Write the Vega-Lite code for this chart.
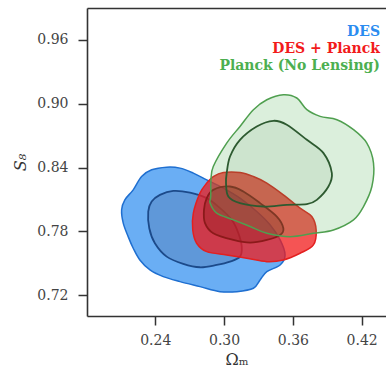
{
  "$schema": "https://vega.github.io/schema/vega-lite/v6.json",
  "width": 299,
  "height": 308,
  "autosize": {"type": "none"},
  "padding": {"left": 87, "top": 8, "right": 0, "bottom": 51},
  "background": "white",
  "data": {"values": [
    {"c":"b95","s":"DES","i":1,"x":0.2107,"y":0.8003},
    {"c":"b95","s":"DES","i":2,"x":0.2135,"y":0.8097},
    {"c":"b95","s":"DES","i":3,"x":0.2208,"y":0.8191},
    {"c":"b95","s":"DES","i":4,"x":0.2281,"y":0.8316},
    {"c":"b95","s":"DES","i":5,"x":0.2369,"y":0.8379},
    {"c":"b95","s":"DES","i":6,"x":0.2500,"y":0.8404},
    {"c":"b95","s":"DES","i":7,"x":0.2616,"y":0.8395},
    {"c":"b95","s":"DES","i":8,"x":0.2732,"y":0.8348},
    {"c":"b95","s":"DES","i":9,"x":0.2849,"y":0.8285},
    {"c":"b95","s":"DES","i":10,"x":0.2994,"y":0.8207},
    {"c":"b95","s":"DES","i":11,"x":0.3139,"y":0.8113},
    {"c":"b95","s":"DES","i":12,"x":0.3285,"y":0.7987},
    {"c":"b95","s":"DES","i":13,"x":0.3401,"y":0.7862},
    {"c":"b95","s":"DES","i":14,"x":0.3489,"y":0.7720},
    {"c":"b95","s":"DES","i":15,"x":0.3532,"y":0.7579},
    {"c":"b95","s":"DES","i":16,"x":0.3489,"y":0.7485},
    {"c":"b95","s":"DES","i":17,"x":0.3373,"y":0.7422},
    {"c":"b95","s":"DES","i":18,"x":0.3314,"y":0.7344},
    {"c":"b95","s":"DES","i":19,"x":0.3256,"y":0.7266},
    {"c":"b95","s":"DES","i":20,"x":0.3111,"y":0.7234},
    {"c":"b95","s":"DES","i":21,"x":0.2965,"y":0.7234},
    {"c":"b95","s":"DES","i":22,"x":0.2790,"y":0.7281},
    {"c":"b95","s":"DES","i":23,"x":0.2616,"y":0.7328},
    {"c":"b95","s":"DES","i":24,"x":0.2470,"y":0.7375},
    {"c":"b95","s":"DES","i":25,"x":0.2354,"y":0.7438},
    {"c":"b95","s":"DES","i":26,"x":0.2266,"y":0.7532},
    {"c":"b95","s":"DES","i":27,"x":0.2208,"y":0.7642},
    {"c":"b95","s":"DES","i":28,"x":0.2164,"y":0.7751},
    {"c":"b95","s":"DES","i":29,"x":0.2121,"y":0.7878},
    {"c":"b68","s":"DES","i":1,"x":0.2339,"y":0.7987},
    {"c":"b68","s":"DES","i":2,"x":0.2369,"y":0.8081},
    {"c":"b68","s":"DES","i":3,"x":0.2441,"y":0.8144},
    {"c":"b68","s":"DES","i":4,"x":0.2557,"y":0.8181},
    {"c":"b68","s":"DES","i":5,"x":0.2703,"y":0.8165},
    {"c":"b68","s":"DES","i":6,"x":0.2849,"y":0.8113},
    {"c":"b68","s":"DES","i":7,"x":0.2965,"y":0.8019},
    {"c":"b68","s":"DES","i":8,"x":0.3067,"y":0.7909},
    {"c":"b68","s":"DES","i":9,"x":0.3125,"y":0.7783},
    {"c":"b68","s":"DES","i":10,"x":0.3154,"y":0.7657},
    {"c":"b68","s":"DES","i":11,"x":0.3139,"y":0.7563},
    {"c":"b68","s":"DES","i":12,"x":0.3052,"y":0.7516},
    {"c":"b68","s":"DES","i":13,"x":0.2936,"y":0.7485},
    {"c":"b68","s":"DES","i":14,"x":0.2790,"y":0.7463},
    {"c":"b68","s":"DES","i":15,"x":0.2644,"y":0.7495},
    {"c":"b68","s":"DES","i":16,"x":0.2500,"y":0.7563},
    {"c":"b68","s":"DES","i":17,"x":0.2397,"y":0.7689},
    {"c":"b68","s":"DES","i":18,"x":0.2348,"y":0.7830},
    {"c":"r95","s":"DES + Planck","i":1,"x":0.2906,"y":0.8316},
    {"c":"r95","s":"DES + Planck","i":2,"x":0.2994,"y":0.8354},
    {"c":"r95","s":"DES + Planck","i":3,"x":0.3139,"y":0.8354},
    {"c":"r95","s":"DES + Planck","i":4,"x":0.3256,"y":0.8316},
    {"c":"r95","s":"DES + Planck","i":5,"x":0.3373,"y":0.8254},
    {"c":"r95","s":"DES + Planck","i":6,"x":0.3517,"y":0.8144},
    {"c":"r95","s":"DES + Planck","i":7,"x":0.3663,"y":0.8019},
    {"c":"r95","s":"DES + Planck","i":8,"x":0.3765,"y":0.7940},
    {"c":"r95","s":"DES + Planck","i":9,"x":0.3803,"y":0.7814},
    {"c":"r95","s":"DES + Planck","i":10,"x":0.3779,"y":0.7673},
    {"c":"r95","s":"DES + Planck","i":11,"x":0.3663,"y":0.7595},
    {"c":"r95","s":"DES + Planck","i":12,"x":0.3517,"y":0.7532},
    {"c":"r95","s":"DES + Planck","i":13,"x":0.3373,"y":0.7516},
    {"c":"r95","s":"DES + Planck","i":14,"x":0.3198,"y":0.7548},
    {"c":"r95","s":"DES + Planck","i":15,"x":0.3023,"y":0.7579},
    {"c":"r95","s":"DES + Planck","i":16,"x":0.2849,"y":0.7610},
    {"c":"r95","s":"DES + Planck","i":17,"x":0.2761,"y":0.7689},
    {"c":"r95","s":"DES + Planck","i":18,"x":0.2727,"y":0.7814},
    {"c":"r95","s":"DES + Planck","i":19,"x":0.2732,"y":0.7972},
    {"c":"r95","s":"DES + Planck","i":20,"x":0.2790,"y":0.8160},
    {"c":"r95","s":"DES + Planck","i":21,"x":0.2849,"y":0.8254},
    {"c":"r68","s":"DES + Planck","i":1,"x":0.2906,"y":0.8191},
    {"c":"r68","s":"DES + Planck","i":2,"x":0.3052,"y":0.8222},
    {"c":"r68","s":"DES + Planck","i":3,"x":0.3168,"y":0.8175},
    {"c":"r68","s":"DES + Planck","i":4,"x":0.3314,"y":0.8066},
    {"c":"r68","s":"DES + Planck","i":5,"x":0.3460,"y":0.7940},
    {"c":"r68","s":"DES + Planck","i":6,"x":0.3517,"y":0.7830},
    {"c":"r68","s":"DES + Planck","i":7,"x":0.3489,"y":0.7767},
    {"c":"r68","s":"DES + Planck","i":8,"x":0.3373,"y":0.7720},
    {"c":"r68","s":"DES + Planck","i":9,"x":0.3227,"y":0.7695},
    {"c":"r68","s":"DES + Planck","i":10,"x":0.3081,"y":0.7720},
    {"c":"r68","s":"DES + Planck","i":11,"x":0.2906,"y":0.7783},
    {"c":"r68","s":"DES + Planck","i":12,"x":0.2834,"y":0.7878},
    {"c":"r68","s":"DES + Planck","i":13,"x":0.2825,"y":0.8003},
    {"c":"r68","s":"DES + Planck","i":14,"x":0.2849,"y":0.8113},
    {"c":"g95","s":"Planck (No Lensing)","i":1,"x":0.2906,"y":0.8410},
    {"c":"g95","s":"Planck (No Lensing)","i":2,"x":0.3023,"y":0.8630},
    {"c":"g95","s":"Planck (No Lensing)","i":3,"x":0.3139,"y":0.8787},
    {"c":"g95","s":"Planck (No Lensing)","i":4,"x":0.3256,"y":0.8944},
    {"c":"g95","s":"Planck (No Lensing)","i":5,"x":0.3373,"y":0.9038},
    {"c":"g95","s":"Planck (No Lensing)","i":6,"x":0.3517,"y":0.9085},
    {"c":"g95","s":"Planck (No Lensing)","i":7,"x":0.3634,"y":0.9054},
    {"c":"g95","s":"Planck (No Lensing)","i":8,"x":0.3722,"y":0.8944},
    {"c":"g95","s":"Planck (No Lensing)","i":9,"x":0.3838,"y":0.8881},
    {"c":"g95","s":"Planck (No Lensing)","i":10,"x":0.3984,"y":0.8850},
    {"c":"g95","s":"Planck (No Lensing)","i":11,"x":0.4129,"y":0.8756},
    {"c":"g95","s":"Planck (No Lensing)","i":12,"x":0.4245,"y":0.8630},
    {"c":"g95","s":"Planck (No Lensing)","i":13,"x":0.4303,"y":0.8442},
    {"c":"g95","s":"Planck (No Lensing)","i":14,"x":0.4289,"y":0.8222},
    {"c":"g95","s":"Planck (No Lensing)","i":15,"x":0.4216,"y":0.8034},
    {"c":"g95","s":"Planck (No Lensing)","i":16,"x":0.4129,"y":0.7909},
    {"c":"g95","s":"Planck (No Lensing)","i":17,"x":0.3954,"y":0.7814},
    {"c":"g95","s":"Planck (No Lensing)","i":18,"x":0.3779,"y":0.7783},
    {"c":"g95","s":"Planck (No Lensing)","i":19,"x":0.3576,"y":0.7751},
    {"c":"g95","s":"Planck (No Lensing)","i":20,"x":0.3373,"y":0.7783},
    {"c":"g95","s":"Planck (No Lensing)","i":21,"x":0.3227,"y":0.7846},
    {"c":"g95","s":"Planck (No Lensing)","i":22,"x":0.3081,"y":0.7909},
    {"c":"g95","s":"Planck (No Lensing)","i":23,"x":0.2936,"y":0.7972},
    {"c":"g95","s":"Planck (No Lensing)","i":24,"x":0.2878,"y":0.8066},
    {"c":"g95","s":"Planck (No Lensing)","i":25,"x":0.2884,"y":0.8128},
    {"c":"g95","s":"Planck (No Lensing)","i":26,"x":0.2886,"y":0.8285},
    {"c":"g68","s":"Planck (No Lensing)","i":1,"x":0.3023,"y":0.8348},
    {"c":"g68","s":"Planck (No Lensing)","i":2,"x":0.3052,"y":0.8504},
    {"c":"g68","s":"Planck (No Lensing)","i":3,"x":0.3139,"y":0.8661},
    {"c":"g68","s":"Planck (No Lensing)","i":4,"x":0.3285,"y":0.8787},
    {"c":"g68","s":"Planck (No Lensing)","i":5,"x":0.3430,"y":0.8840},
    {"c":"g68","s":"Planck (No Lensing)","i":6,"x":0.3547,"y":0.8803},
    {"c":"g68","s":"Planck (No Lensing)","i":7,"x":0.3722,"y":0.8661},
    {"c":"g68","s":"Planck (No Lensing)","i":8,"x":0.3867,"y":0.8536},
    {"c":"g68","s":"Planck (No Lensing)","i":9,"x":0.3940,"y":0.8348},
    {"c":"g68","s":"Planck (No Lensing)","i":10,"x":0.3910,"y":0.8222},
    {"c":"g68","s":"Planck (No Lensing)","i":11,"x":0.3809,"y":0.8097},
    {"c":"g68","s":"Planck (No Lensing)","i":12,"x":0.3722,"y":0.8056},
    {"c":"g68","s":"Planck (No Lensing)","i":13,"x":0.3547,"y":0.8050},
    {"c":"g68","s":"Planck (No Lensing)","i":14,"x":0.3343,"y":0.8034},
    {"c":"g68","s":"Planck (No Lensing)","i":15,"x":0.3139,"y":0.8066},
    {"c":"g68","s":"Planck (No Lensing)","i":16,"x":0.3037,"y":0.8128},
    {"c":"g68","s":"Planck (No Lensing)","i":17,"x":0.3017,"y":0.8254}
  ]},
  "resolve": {"axis": {"x": "independent"}},
  "layer": [
    {
      "transform": [{"filter": "datum.c == 'b95'"}],
      "mark": {"type": "line", "interpolate": "cardinal-closed", "fillOpacity": 0.7, "stroke": "#1f6fd0", "strokeWidth": 1.5},
      "encoding": {
        "x": {"field": "x", "type": "quantitative", "scale": {"domain": [0.1805, 0.4412], "nice": false, "zero": false}, "axis": {"values": [0.24, 0.30, 0.36, 0.42], "format": ".2f", "title": "Ωₘ", "labelPadding": 8, "titlePadding": 4}},
        "y": {"field": "y", "type": "quantitative", "scale": {"domain": [0.7005, 0.990], "nice": false, "zero": false}, "axis": {"values": [0.72, 0.78, 0.84, 0.90, 0.96], "format": ".2f", "title": "S₈", "titleFontStyle": "italic", "labelPadding": 10, "titlePadding": 8}},
        "order": {"field": "i", "type": "quantitative"},
        "fill": {"field": "s", "type": "nominal", "title": " ", "scale": {"domain": ["DES", "DES + Planck", "Planck (No Lensing)"], "range": ["#2b8cf0", "#f21b1b", "#4caf50"]}, "legend": {"labelColor": {"expr": "scale('fill', datum.value)"}}}
      }
    },
    {
      "transform": [{"filter": "datum.c == 'b68'"}],
      "mark": {"type": "line", "interpolate": "cardinal-closed", "fill": "#4a6fa5", "fillOpacity": 0.35, "stroke": "#1c4a8a", "strokeWidth": 1.8},
      "encoding": {
        "x": {"field": "x", "type": "quantitative", "axis": null},
        "y": {"field": "y", "type": "quantitative", "axis": {"values": [0.72, 0.78, 0.84, 0.90, 0.96], "format": ".2f", "title": "S₈", "titleFontStyle": "italic", "labelPadding": 10, "titlePadding": 8}},
        "order": {"field": "i", "type": "quantitative"}
      }
    },
    {
      "transform": [{"filter": "datum.c == 'r95'"}],
      "mark": {"type": "line", "interpolate": "cardinal-closed", "fillOpacity": 0.75, "stroke": "#e32020", "strokeWidth": 1.5},
      "encoding": {
        "x": {"field": "x", "type": "quantitative", "axis": null},
        "y": {"field": "y", "type": "quantitative", "axis": {"values": [0.72, 0.78, 0.84, 0.90, 0.96], "format": ".2f", "title": "S₈", "titleFontStyle": "italic", "labelPadding": 10, "titlePadding": 8}},
        "order": {"field": "i", "type": "quantitative"},
        "fill": {"field": "s", "type": "nominal", "title": " ", "legend": {"labelColor": {"expr": "scale('fill', datum.value)"}}}
      }
    },
    {
      "transform": [{"filter": "datum.c == 'r68'"}],
      "mark": {"type": "line", "interpolate": "cardinal-closed", "fill": "#8b1a1a", "fillOpacity": 0.35, "stroke": "#8b1a1a", "strokeWidth": 1.8},
      "encoding": {
        "x": {"field": "x", "type": "quantitative", "axis": null},
        "y": {"field": "y", "type": "quantitative", "axis": {"values": [0.72, 0.78, 0.84, 0.90, 0.96], "format": ".2f", "title": "S₈", "titleFontStyle": "italic", "labelPadding": 10, "titlePadding": 8}},
        "order": {"field": "i", "type": "quantitative"}
      }
    },
    {
      "transform": [{"filter": "datum.c == 'g95'"}],
      "mark": {"type": "line", "interpolate": "cardinal-closed", "fillOpacity": 0.2, "stroke": "#4f9f4f", "strokeWidth": 1.5},
      "encoding": {
        "x": {"field": "x", "type": "quantitative", "axis": null},
        "y": {"field": "y", "type": "quantitative", "axis": {"values": [0.72, 0.78, 0.84, 0.90, 0.96], "format": ".2f", "title": "S₈", "titleFontStyle": "italic", "labelPadding": 10, "titlePadding": 8}},
        "order": {"field": "i", "type": "quantitative"},
        "fill": {"field": "s", "type": "nominal", "title": " ", "legend": {"labelColor": {"expr": "scale('fill', datum.value)"}}}
      }
    },
    {
      "transform": [{"filter": "datum.c == 'g68'"}],
      "mark": {"type": "line", "interpolate": "cardinal-closed", "fill": "#2e6b35", "fillOpacity": 0.08, "stroke": "#2d5a30", "strokeWidth": 1.8},
      "encoding": {
        "x": {"field": "x", "type": "quantitative", "axis": {"orient": "top", "labels": false, "ticks": false, "title": null, "domain": true}},
        "y": {"field": "y", "type": "quantitative", "axis": {"values": [0.72, 0.78, 0.84, 0.90, 0.96], "format": ".2f", "title": "S₈", "titleFontStyle": "italic", "labelPadding": 10, "titlePadding": 8}},
        "order": {"field": "i", "type": "quantitative"}
      }
    }
  ],
  "config": {
    "font": "DejaVu Serif",
    "view": {"stroke": null},
    "axis": {"grid": false, "domainColor": "#333", "domainWidth": 1.6, "tickColor": "#333", "tickWidth": 1.5, "tickSize": 9, "labelFont": "DejaVu Serif", "labelFontSize": 14, "labelColor": "#444", "titleFont": "DejaVu Serif", "titleFontWeight": "normal", "titleFontSize": 16, "titleColor": "#333"},
    "legend": {"orient": "top-right", "offset": 6, "symbolSize": 0, "symbolOpacity": 0, "symbolStrokeWidth": 0, "labelFont": "DejaVu Serif", "labelFontWeight": "bold", "labelFontSize": 14, "labelAlign": "right", "rowPadding": 3, "labelOffset": 0, "padding": 0, "labelLimit": 300, "titleFontSize": 10, "titlePadding": 1}
  }
}
